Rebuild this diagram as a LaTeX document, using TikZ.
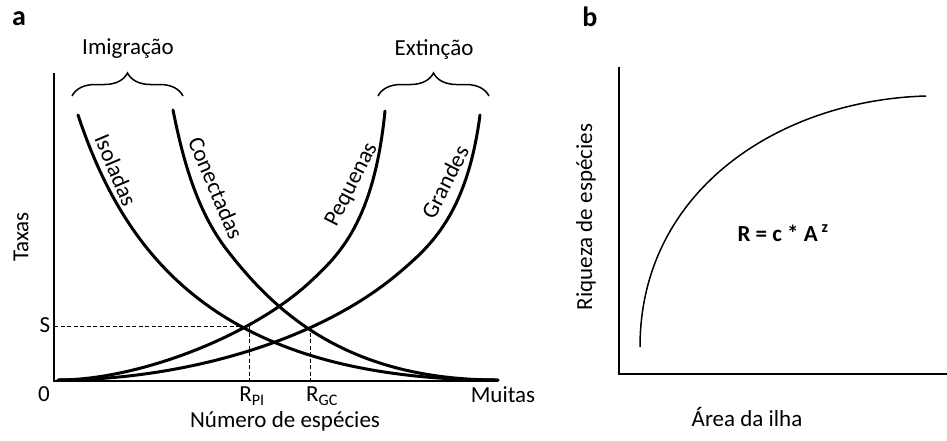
\documentclass[tikz,border=0pt]{standalone}
\usepackage{fontspec}
\setmainfont{Carlito}
\usetikzlibrary{decorations.pathreplacing}
\begin{document}
\begin{tikzpicture}[x=1pt, y=-1pt,
    lbl/.style={inner sep=0, font=\fontsize{23}{27}\selectfont},
    panel/.style={inner sep=0, font=\fontsize{28}{30}\selectfont\bfseries},
    axis/.style={line width=2pt},
    rate/.style={line width=3pt, line cap=round},
    guide/.style={line width=1pt, dash pattern=on 4pt off 2.5pt},
    bracket/.style={decorate, decoration={brace, amplitude=23pt}, line width=1.5pt}]
          % Paths, nodes and curves:
          \useasboundingbox (0,0) rectangle (947,440);
          \node[panel] (a) at (19,19){a};
          \coordinate (o) at (54,381);
          \draw[axis] (54,73) -- (o) -- (498,381);
          \draw[bracket] (72,96) -- (183,96);
          \draw[bracket] (378,96) -- (489,96);
          \node[lbl] (imig) at (128,49){Imigração};
          \node[lbl] (ext) at (434,49){Extinção};
          \draw[rate] (78,115) .. controls (125,256) and (218,380) .. (498,380);
          \draw[rate] (173,110) .. controls (182.8,159) and (196.5,210.5) .. (227,250)
                     .. controls (275.8,313.2) and (348,380) .. (498,380);
          \draw[rate] (58,380) .. controls (138,380) and (251.4,336.4) .. (310,282)
                     .. controls (339.3,254.8) and (374,221.5) .. (385,111);
          \draw[rate] (58,380) .. controls (178,380) and (316.4,343.5) .. (400,272)
                     .. controls (430.4,246) and (467,214) .. (480,115);
          \node[lbl, rotate=-67] (iso) at (116,170){Isoladas};
          \node[lbl, rotate=-67] (con) at (216,188){Conectadas};
          \node[lbl, rotate=63] (peq) at (352,185){Pequenas};
          \node[lbl, rotate=63] (gra) at (445,182){Grandes};
          \coordinate (pi) at (249,326);
          \coordinate (gc) at (310,326);
          \draw[guide] (o |- pi) -- (pi) -- (pi |- o);
          \draw[guide] (gc) -- (gc |- o);
          \node[lbl] (s) at (45,325){S};
          \node[lbl] (zero) at (44,394){0};
          \node[lbl] (rpi) at (252,396){R\textsubscript{PI}};
          \node[lbl] (rgc) at (322,396){R\textsubscript{GC}};
          \node[lbl] (muitas) at (503,395){Muitas};
          \node[lbl] (nsp) at (285,421){Número de espécies};
          \node[lbl, rotate=90] (taxas) at (21,237){Taxas};
          \node[panel] (b) at (590,17){b};
          \coordinate (ob) at (619,374);
          \draw[axis] (619,67) -- (ob) -- (947,374);
          \draw[line width=1.5pt] (640,347) .. controls (640,190) and (780,100) .. (926,96);
          \node[lbl, font=\fontsize{23}{27}\selectfont\bfseries] (eq) at (783,233){R = c * A\,\textsuperscript{z}};
          \node[lbl, rotate=90] (riq) at (586,217){Riqueza de espécies};
          \node[lbl] (area) at (747,417){Área da ilha};
        \end{tikzpicture}
\end{document}
